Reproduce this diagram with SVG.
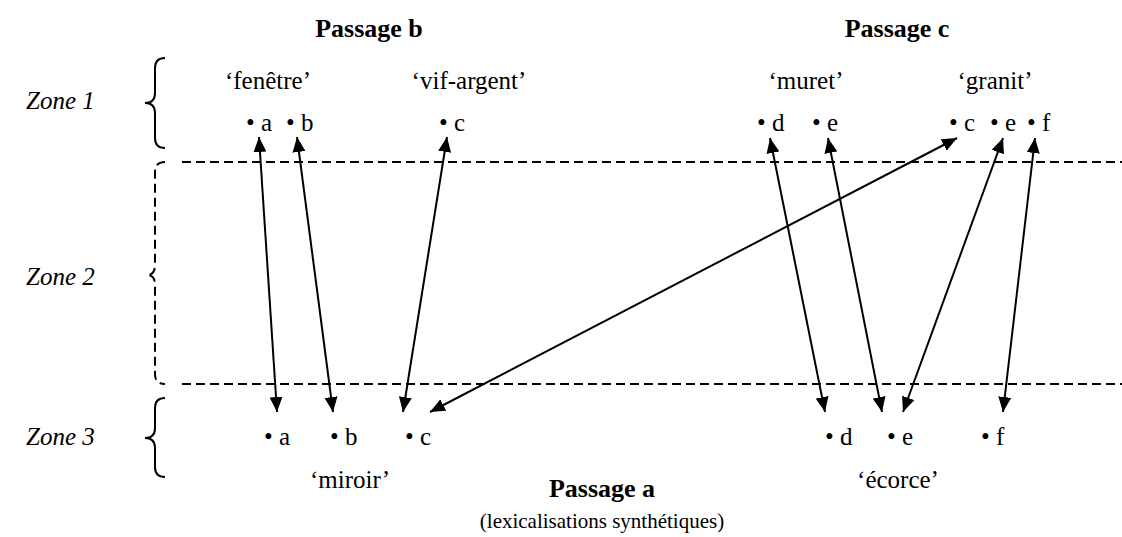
<svg xmlns="http://www.w3.org/2000/svg" width="1122" height="537" viewBox="0 0 1122 537">
<style>
text{font-family:"Liberation Serif","Times New Roman",serif;fill:#000;font-size:25px}
.h{font-weight:bold;text-anchor:middle;font-size:26px}
.z{font-style:italic}
.m{text-anchor:middle}
.cap{font-size:21px;text-anchor:middle}
.br{fill:none;stroke:#000;stroke-width:2}
.dash{fill:none;stroke:#000;stroke-width:2;stroke-dasharray:9 5}
.c{stroke:#000;stroke-width:2;fill:none;marker-start:url(#ah);marker-end:url(#ah)}
</style>
<defs>
<marker id="ah" markerUnits="userSpaceOnUse" markerWidth="16" markerHeight="13" refX="15" refY="6.5" orient="auto-start-reverse">
<path d="M0,0 L15,6.5 L0,13 z" fill="#000"/>
</marker>
</defs>
<rect width="1122" height="537" fill="#fff"/>
<g id="headings">
<text class="h" x="369" y="37">Passage b</text>
<text class="h" x="897" y="37">Passage c</text>
<text class="h" x="602" y="497">Passage a</text>
<text class="cap" x="602" y="528">(lexicalisations synthétiques)</text>
</g>
<g id="zones">
<text class="z" x="26" y="109">Zone 1</text>
<text class="z" x="26" y="285">Zone 2</text>
<text class="z" x="26" y="445">Zone 3</text>
<path class="br" d="M165,58 Q155,58 155,68 L155,93 Q155,103 145,103 Q155,103 155,113 L155,138 Q155,148 165,148"/>
<path class="dash" d="M165,162 Q155,162 155,172 L155,265 Q155,275 147,275 Q155,275 155,285 L155,374 Q155,384 165,384"/>
<path class="br" d="M165,398 Q155,398 155,408 L155,428 Q155,438 145,438 Q155,438 155,448 L155,467 Q155,477 165,477"/>
<line class="dash" x1="182" y1="162" x2="1122" y2="162"/>
<line class="dash" x1="182" y1="384" x2="1122" y2="384"/>
</g>
<g id="node-fenetre">
<text class="m" x="268" y="89">‘fenêtre’</text>
<text x="246" y="131">• a</text>
<text x="286" y="131">• b</text>
</g>
<g id="node-vif-argent">
<text class="m" x="469" y="89">‘vif-argent’</text>
<text x="439" y="131">• c</text>
</g>
<g id="node-muret">
<text class="m" x="806" y="89">‘muret’</text>
<text x="757" y="131">• d</text>
<text x="812" y="131">• e</text>
</g>
<g id="node-granit">
<text class="m" x="995" y="89">‘granit’</text>
<text x="949" y="131">• c</text>
<text x="990" y="131">• e</text>
<text x="1027" y="131">• f</text>
</g>
<g id="node-miroir">
<text x="264" y="445">• a</text>
<text x="330" y="445">• b</text>
<text x="405" y="445">• c</text>
<text class="m" x="350" y="488">‘miroir’</text>
</g>
<g id="node-ecorce">
<text x="825" y="445">• d</text>
<text x="887" y="445">• e</text>
<text x="981" y="445">• f</text>
<text class="m" x="898" y="488">‘écorce’</text>
</g>
<g id="connectors">
<line class="c" x1="259" y1="137" x2="277" y2="412"/>
<line class="c" x1="297" y1="137" x2="333" y2="412"/>
<line class="c" x1="447" y1="137" x2="403" y2="412"/>
<line class="c" x1="957" y1="138" x2="430" y2="412"/>
<line class="c" x1="770" y1="138" x2="825" y2="412"/>
<line class="c" x1="828" y1="138" x2="882" y2="412"/>
<line class="c" x1="1003" y1="138" x2="903" y2="412"/>
<line class="c" x1="1035" y1="138" x2="1003" y2="412"/>
</g>
</svg>
